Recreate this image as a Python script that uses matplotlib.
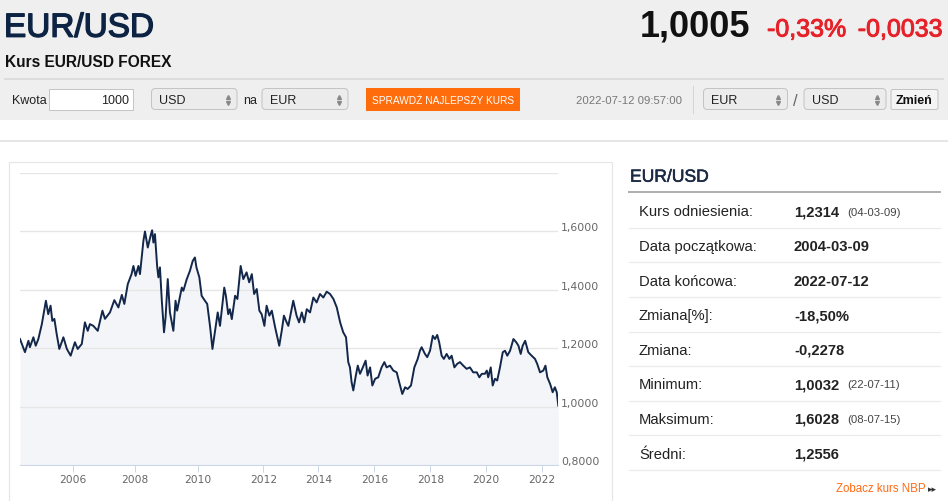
import numpy as np
import matplotlib
matplotlib.use("Agg")
import matplotlib.pyplot as plt
import matplotlib.patheffects as pe
from matplotlib.patches import Rectangle, FancyBboxPatch

plt.rcParams['font.family'] = ['Liberation Sans', 'DejaVu Sans']

# ---- data (decimal year, EUR/USD) ----
years = [
    2004.19, 2004.36, 2004.48, 2004.53, 2004.65, 2004.73, 2004.82, 2004.94,
    2005.08, 2005.16, 2005.24, 2005.30, 2005.37, 2005.45, 2005.54, 2005.68,
    2005.80, 2005.93, 2006.07, 2006.16, 2006.29, 2006.39, 2006.48, 2006.55,
    2006.66, 2006.80, 2006.95, 2007.03, 2007.19, 2007.33, 2007.46, 2007.57,
    2007.65, 2007.76, 2007.88, 2007.94, 2008.01, 2008.10, 2008.15, 2008.26,
    2008.31, 2008.40, 2008.50, 2008.54, 2008.58, 2008.63, 2008.70, 2008.74,
    2008.79, 2008.85, 2008.92, 2008.97, 2009.04, 2009.11, 2009.22, 2009.29,
    2009.34, 2009.49, 2009.54, 2009.65, 2009.75, 2009.84, 2009.91, 2009.96,
    2010.05, 2010.12, 2010.22, 2010.29, 2010.38, 2010.45, 2010.53, 2010.61,
    2010.68, 2010.81, 2010.86, 2010.93, 2010.98, 2011.04, 2011.14, 2011.21,
    2011.31, 2011.39, 2011.49, 2011.57, 2011.65, 2011.72, 2011.80, 2011.88,
    2011.95, 2012.04, 2012.12, 2012.22, 2012.31, 2012.43, 2012.58, 2012.67,
    2012.75, 2012.84, 2012.91, 2012.97, 2013.09, 2013.21, 2013.30, 2013.40,
    2013.49, 2013.58, 2013.70, 2013.82, 2013.94, 2014.06, 2014.18, 2014.30,
    2014.42, 2014.54, 2014.66, 2014.78, 2014.89, 2014.99, 2015.07, 2015.13,
    2015.19, 2015.25, 2015.34, 2015.41, 2015.49, 2015.59, 2015.69, 2015.76,
    2015.85, 2015.93, 2016.03, 2016.14, 2016.26, 2016.36, 2016.44, 2016.56,
    2016.68, 2016.80, 2016.89, 2017.00, 2017.10, 2017.19, 2017.31, 2017.43,
    2017.55, 2017.63, 2017.69, 2017.81, 2017.89, 2017.99, 2018.09, 2018.17,
    2018.25, 2018.32, 2018.41, 2018.49, 2018.59, 2018.69, 2018.77, 2018.87,
    2018.97, 2019.07, 2019.19, 2019.31, 2019.43, 2019.55, 2019.68, 2019.77,
    2019.86, 2019.97, 2020.04, 2020.09, 2020.18, 2020.25, 2020.33, 2020.41,
    2020.51, 2020.61, 2020.69, 2020.77, 2020.87, 2020.99, 2021.09, 2021.17,
    2021.25, 2021.32, 2021.41, 2021.52, 2021.64, 2021.76, 2021.84, 2021.94,
    2022.05, 2022.12, 2022.18, 2022.27, 2022.35, 2022.42, 2022.48, 2022.53,
]
eurusd = [
    1.231, 1.186, 1.225, 1.203, 1.237, 1.208, 1.231, 1.282,
    1.362, 1.316, 1.345, 1.293, 1.300, 1.248, 1.197, 1.237,
    1.197, 1.174, 1.220, 1.197, 1.214, 1.288, 1.259, 1.282,
    1.276, 1.259, 1.328, 1.300, 1.322, 1.364, 1.339, 1.382,
    1.351, 1.419, 1.453, 1.481, 1.447, 1.481, 1.453, 1.567,
    1.599, 1.544, 1.589, 1.603, 1.561, 1.590, 1.480, 1.442,
    1.476, 1.362, 1.254, 1.305, 1.436, 1.322, 1.259, 1.362,
    1.328, 1.407, 1.396, 1.436, 1.464, 1.498, 1.510, 1.476,
    1.442, 1.379, 1.362, 1.351, 1.271, 1.197, 1.259, 1.322,
    1.276, 1.407, 1.379, 1.316, 1.333, 1.299, 1.379, 1.368,
    1.481, 1.436, 1.459, 1.425, 1.453, 1.385, 1.402, 1.328,
    1.316, 1.276, 1.345, 1.311, 1.328, 1.271, 1.208, 1.259,
    1.311, 1.290, 1.276, 1.305, 1.362, 1.311, 1.288, 1.322,
    1.288, 1.333, 1.322, 1.373, 1.356, 1.385, 1.373, 1.393,
    1.385, 1.368, 1.339, 1.288, 1.254, 1.237, 1.152, 1.134,
    1.083, 1.055, 1.106, 1.140, 1.112, 1.134, 1.157, 1.106,
    1.134, 1.072, 1.095, 1.100, 1.134, 1.152, 1.134, 1.140,
    1.123, 1.117, 1.083, 1.043, 1.066, 1.060, 1.072, 1.134,
    1.163, 1.191, 1.203, 1.180, 1.169, 1.191, 1.242, 1.231,
    1.245, 1.220, 1.174, 1.163, 1.180, 1.163, 1.174, 1.134,
    1.146, 1.152, 1.140, 1.129, 1.134, 1.117, 1.117, 1.100,
    1.112, 1.112, 1.123, 1.100, 1.134, 1.072, 1.095, 1.089,
    1.134, 1.186, 1.191, 1.174, 1.191, 1.231, 1.220, 1.208,
    1.180, 1.208, 1.225, 1.186, 1.174, 1.163, 1.146, 1.117,
    1.123, 1.140, 1.100, 1.077, 1.049, 1.066, 1.049, 1.003,
]

tick_years = [2006, 2008, 2010, 2012, 2014, 2016, 2018, 2020, 2022]
tick_labels = [str(y) for y in tick_years]
y_ticks = [0.8, 1.0, 1.2, 1.4, 1.6, 1.8]
y_labels = ['0,8000', '1,0000', '1,2000', '1,4000', '1,6000', '']

stat_labels = ['Kurs odniesienia:', 'Data początkowa:', 'Data końcowa:', 'Zmiana[%]:',
               'Zmiana:', 'Minimum:', 'Maksimum:', 'Średni:']
stat_values = ['1,2314', '2004-03-09', '2022-07-12', '-18,50%', '-0,2278',
               '1,0032', '1,6028', '1,2556']
stat_notes = ['(04-03-09)', '', '', '', '', '(22-07-11)', '(08-07-15)', '']

# time axis of the original is not linear (point-indexed), so map years
# to pixel positions piecewise through a custom scale
knot_years = [1900, 2004.19] + tick_years + [2022.53, 2100]
knot_pos = [20 - 104.19 * 29.1, 20, 72.7, 135.3, 197.7, 263.3, 318.3,
            374.3, 430.3, 485.7, 541.7, 558.3, 558.3 + 77.47 * 31.3]


def fwd(x):
    return np.interp(x, knot_years, knot_pos)


def inv(p):
    return np.interp(p, knot_pos, knot_years)


W, H = 948, 501
fig = plt.figure(figsize=(W / 100, H / 100), dpi=100)

# background axes in pixel coordinates for the page furniture
bg = fig.add_axes([0, 0, 1, 1], zorder=0)
bg.set_xlim(0, W)
bg.set_ylim(H, 0)
bg.axis('off')

PX = 0.72  # points per pixel

bg.add_patch(Rectangle((0, 0), W, 120, color='#efefef', lw=0))
bg.plot([5, 943], [79, 79], color='#dcdcdc', lw=2 * PX)
bg.plot([0, W], [141, 141], color='#e6e6e6', lw=2 * PX)
bg.add_patch(Rectangle((9.5, 162), 602.5, 360, facecolor='white',
                       edgecolor='#e6e6e6', lw=1.2 * PX))

# header
thick = [pe.withStroke(linewidth=1.0, foreground='#0d2344')]
bg.text(4, 36.7, 'EUR/USD', fontsize=24, color='#0d2344', va='baseline',
        path_effects=thick)
bg.text(640, 36, '1,0005', fontsize=26, fontweight='bold', color='#111111', va='baseline')
red = [pe.withStroke(linewidth=0.7, foreground='#e62129')]
bg.text(767, 36.5, '-0,33%', fontsize=18, color='#e62129', va='baseline', path_effects=red)
bg.text(943, 36.5, '-0,0033', fontsize=18, color='#e62129', va='baseline', ha='right',
        path_effects=red)
bg.text(5, 66.7, 'Kurs EUR/USD FOREX', fontsize=11.2, fontweight='bold',
        color='#111111', va='baseline')

# controls row
base = 104
bg.text(12, base, 'Kwota', fontsize=9, color='#222222', va='baseline')
bg.add_patch(Rectangle((48.7, 88.5), 84.3, 21, facecolor='white', edgecolor='#c5c5c5',
                       lw=1 * PX))
bg.text(129, base, '1000', fontsize=9, color='#222222', va='baseline', ha='right')


def select_box(x0, w, label):
    bg.add_patch(FancyBboxPatch((x0 + 3, 91.5), w - 6, 15,
                                boxstyle='round,pad=3,rounding_size=4',
                                facecolor='#ececec', edgecolor='#c4c4c4', lw=1 * PX))
    bg.text(x0 + 8, base, label, fontsize=9, color='#222222', va='baseline')
    bg.plot([x0 + w - 9], [96.5], marker='^', ms=2.8, color='#888888', lw=0)
    bg.plot([x0 + w - 9], [102.5], marker='v', ms=2.8, color='#888888', lw=0)


select_box(151.5, 85.5, 'USD')
bg.text(243, base, 'na', fontsize=9, color='#222222', va='baseline')
select_box(262, 86, 'EUR')

bg.add_patch(Rectangle((366, 88), 154, 23, color='#ff6c0c', lw=0))
bg.text(443, 103.5, 'SPRAWDŹ NAJLEPSZY KURS', fontsize=7.3, color='white',
        va='baseline', ha='center')
bg.text(576, 104, '2022-07-12 09:57:00', fontsize=8.2, color='#777777', va='baseline')
bg.plot([693, 693], [86, 113], color='#d5d5d5', lw=1 * PX)
select_box(703.5, 84, 'EUR')
bg.text(795, 106, '/', fontsize=12, color='#666666', va='baseline', ha='center')
select_box(804, 82, 'USD')
bg.add_patch(FancyBboxPatch((891, 89.5), 47, 20, boxstyle='round,pad=0,rounding_size=2',
                            facecolor='#f4f4f4', edgecolor='#c4c4c4', lw=1 * PX))
bg.text(914.5, 104, 'Zmień', fontsize=9, fontweight='bold', color='#111111',
        va='baseline', ha='center')

# statistics panel
bg.text(630, 181.7, 'EUR/USD', fontsize=12.6, color='#1c2a44', va='baseline',
        path_effects=[pe.withStroke(linewidth=0.4, foreground='#1c2a44')])
bg.plot([629, 940], [192.3, 192.3], color='#b0b0b0', lw=2 * PX)
for i, (lab, val, note) in enumerate(zip(stat_labels, stat_values, stat_notes)):
    yc = 211 + 34.6 * i
    bg.text(639, yc + 5.3, lab, fontsize=10.6, color='#222222', va='baseline')
    bg.text(794, yc + 5.3, val, fontsize=10.6, fontweight='bold', color='#222222',
            va='baseline')
    if note:
        bg.text(847, yc + 4.5, note, fontsize=8.2, color='#444444', va='baseline')
    ys = 227.7 + 34.6 * i
    bg.plot([629, 940], [ys, ys], color='#ebebeb', lw=1.2 * PX)

bg.text(836, 492, 'Zobacz kurs NBP', fontsize=8.3, color='#ff6a13', va='baseline')
bg.text(928, 492, '▸▸', fontsize=6.5, color='#333333', va='baseline',
        family='DejaVu Sans')

# chart
left, right, top, bottom = 20, 558.3, 172.7, 465
ax = fig.add_axes([left / W, 1 - bottom / H, (right - left) / W, (bottom - top) / H],
                  zorder=1)
ax.set_facecolor('none')
ax.set_xscale('function', functions=(fwd, inv))
ax.set_xlim(years[0], years[-1])
ax.set_ylim(0.8, 1.8)

ax.fill_between(years, eurusd, 0.8, color='#f4f5f8', lw=0, zorder=0.3)
ax.plot(years, eurusd, color='#13274a', lw=1.4, zorder=2)

ax.set_axisbelow(True)
ax.yaxis.grid(True, color='#e6e6e6', lw=1.4 * PX)
ax.xaxis.grid(False)
for s in ['left', 'right', 'top']:
    ax.spines[s].set_visible(False)
ax.spines['bottom'].set_color('#ccd6eb')
ax.spines['bottom'].set_linewidth(1 * PX)

ax.set_xticks(tick_years)
ax.set_xticklabels(tick_labels)
ax.xaxis.set_minor_locator(matplotlib.ticker.NullLocator())
ax.tick_params(axis='x', direction='out', length=5, width=1 * PX, color='#ccd6eb',
               labelcolor='#666666', labelsize=7.7, pad=2.5)
for lab in ax.get_xticklabels():
    lab.set_family('DejaVu Sans')

ax.set_yticks(y_ticks)
ax.set_yticklabels(y_labels)
ax.tick_params(axis='y', length=0, labelleft=False, labelright=True,
               labelcolor='#666666', labelsize=7.8, pad=2)
for lab in ax.yaxis.get_ticklabels():
    lab.set_family('DejaVu Sans')
    lab.set_va('baseline')

fig.savefig('out.png', dpi=100)
